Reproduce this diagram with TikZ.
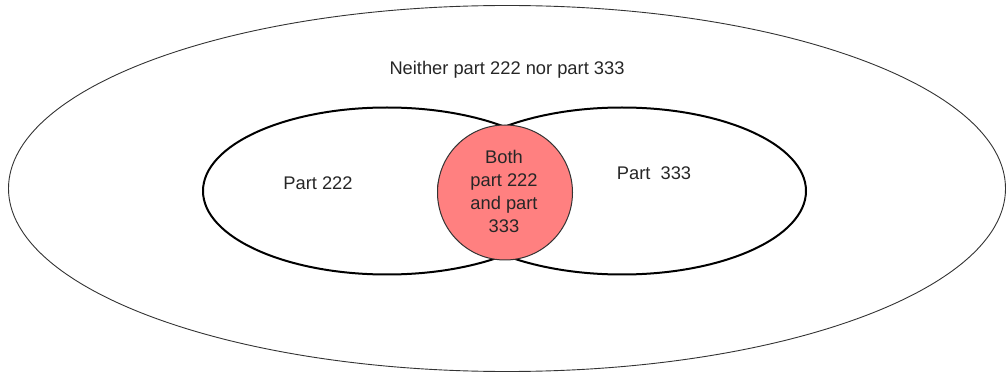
\documentclass[tikz,border=0pt]{standalone}
\usepackage{fontspec}
\setmainfont{Liberation Sans}
\usetikzlibrary{shapes.geometric}
\definecolor{pinkfill}{HTML}{FF8080}
\begin{document}
\begin{tikzpicture}[x=1pt,y=-1pt,
  setell/.style={ellipse, inner sep=0pt, outer sep=0pt},
  lbl/.style={inner sep=0pt, font=\fontsize{18.3}{23}\selectfont, text=black!85},
]
\useasboundingbox (0,0) rectangle (1007,374);
\node[setell, draw=black!80, line width=0.9pt, minimum width=997pt, minimum height=366pt] (outer) at (507,188.5) {};
\node[setell, draw=black, line width=2pt, minimum width=368pt, minimum height=167pt] (left) at (387,191) {};
\node[setell, draw=black, line width=2pt, minimum width=368pt, minimum height=167pt] (right) at (622,191) {};
\node[circle, inner sep=0pt, draw=black!80, line width=1pt, fill=pinkfill, minimum size=135pt] (both) at (505,192.5) {};
\node[lbl] (tneither) at (507,70) {Neither part 222 nor part 333};
\node[lbl] (t222) at (318,183) {Part 222};
\node[lbl] (t333) at (654,173) {Part\ \ 333};
\node[lbl, align=center] (tboth) at (504,191) {Both\\part 222\\and part\\333};
\end{tikzpicture}
\end{document}
